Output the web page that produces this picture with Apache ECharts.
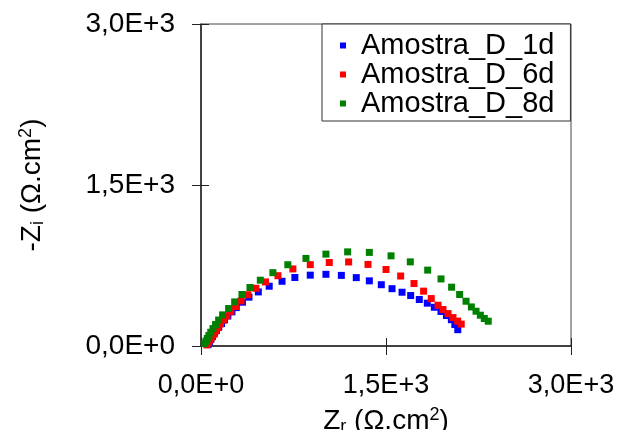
<!DOCTYPE html>
<html>
<head>
<meta charset="utf-8">
<script src="https://cdn.jsdelivr.net/npm/echarts@6/dist/echarts.min.js"></script>
<style>
  html, body { margin: 0; padding: 0; background: #fff; }
  #chart { width: 621px; height: 430px; }
</style>
</head>
<body>
<div id="chart"></div>
<script>
// Nyquist data: [Zr, -Zi] in ohm.cm2
const seriesNames = ['Amostra_D_1d', 'Amostra_D_6d', 'Amostra_D_8d'];
const seriesColors = ['#0000FF', '#FF0000', '#008000'];

const amostra1d = [
  [58, 15], [68, 38], [80, 62], [93, 88], [108, 115], [125, 145], [144, 176],
  [166, 209], [190, 243], [218, 280], [251, 318], [286, 358], [336, 408],
  [389, 455], [465, 504], [553, 557], [657, 603], [761, 638], [886, 660],
  [1013, 668], [1138, 658], [1259, 637], [1365, 607], [1462, 571], [1549, 534],
  [1630, 501], [1700, 470], [1770, 433], [1835, 399], [1892, 361], [1946, 322],
  [1990, 284], [2030, 245], [2058, 200], [2082, 152]
];

const amostra6d = [
  [48, 10], [60, 32], [72, 56], [86, 82], [101, 110], [118, 140], [137, 172],
  [158, 206], [182, 242], [210, 280], [242, 322], [280, 368], [325, 420],
  [380, 478], [445, 538], [523, 597], [624, 655], [745, 718], [886, 758],
  [1040, 778], [1197, 783], [1354, 760], [1500, 713], [1619, 652], [1727, 582],
  [1805, 511], [1867, 442], [1922, 380], [1962, 340], [2003, 302], [2043, 265],
  [2081, 232], [2110, 204]
];

const amostra8d = [
  [30, 22], [40, 45], [51, 70], [64, 98], [79, 128], [97, 162], [118, 200],
  [143, 242], [175, 290], [224, 349], [273, 411], [332, 480], [397, 545],
  [481, 613], [583, 683], [704, 757], [851, 816], [1013, 856], [1189, 877],
  [1365, 872], [1541, 840], [1697, 784], [1838, 707], [1946, 625], [2032, 548],
  [2097, 480], [2149, 417], [2192, 364], [2230, 324], [2265, 287], [2297, 256],
  [2329, 231]
];

const seriesData = [amostra1d, amostra6d, amostra8d];

// axis range and tick step (same for both axes)
const axisMin = 0;
const axisMax = 3000;
const axisStep = 1500;

const FONT = '"Liberation Sans", Arial, sans-serif';

// 1500 -> "1,5E+3"
function sciLabel(v) {
  return v.toExponential(1).replace('.', ',').replace('e', 'E');
}

const titleRich = {
  a: { fontFamily: FONT, fontSize: 28, color: '#000', lineHeight: 30 },
  s: { fontFamily: FONT, fontSize: 18, color: '#000', lineHeight: 18, verticalAlign: 'bottom' },
  p: { fontFamily: FONT, fontSize: 18, color: '#000', lineHeight: 18, verticalAlign: 'top' }
};

const grid = {
  left: 201, top: 24, width: 370, height: 322,
  show: true, borderColor: '#444', borderWidth: 1,
  containLabel: false,
  outerBoundsMode: 'none'
};

function mainAxis(dim) {
  const isX = dim === 'x';
  return {
    type: 'value',
    min: axisMin,
    max: axisMax,
    interval: axisStep,
    position: isX ? 'bottom' : 'left',
    splitLine: { show: false },
    axisLine: { show: true, onZero: false, lineStyle: { color: '#222', width: 1.5 } },
    axisTick: { show: true, inside: false, length: 9, lineStyle: { color: '#222', width: 1 } },
    axisLabel: {
      show: true,
      formatter: sciLabel,
      fontFamily: FONT,
      fontSize: isX ? 27 : 28,
      color: '#000',
      margin: 26
    },
    name: isX ? '{a|Z}{s|r}{a| (Ω.cm}{p|2}{a|)}' : '{a|-Z}{s|i}{a| (Ω.cm}{p|2}{a|)}',
    nameLocation: 'middle',
    nameGap: isX ? 60 : 154,
    nameTextStyle: { rich: titleRich }
  };
}

// companion axes drawing the inner half of the crossing tick marks
function innerTickAxis(dim) {
  return {
    type: 'value',
    min: axisMin,
    max: axisMax,
    interval: axisStep,
    position: dim === 'x' ? 'bottom' : 'left',
    splitLine: { show: false },
    axisLine: { show: false, onZero: false },
    axisTick: { show: true, inside: true, length: 8, lineStyle: { color: '#222', width: 1 } },
    axisLabel: { show: false }
  };
}

const chart = echarts.init(document.getElementById('chart'), null, { renderer: 'canvas' });

chart.setOption({
  animation: false,
  backgroundColor: '#fff',
  grid: grid,
  xAxis: [mainAxis('x'), innerTickAxis('x')],
  yAxis: [mainAxis('y'), innerTickAxis('y')],
  legend: {
    orient: 'vertical',
    left: 322,
    top: 24,
    padding: [7, 16, 3, 18],
    itemGap: 0,
    itemWidth: 6,
    itemHeight: 6,
    icon: 'rect',
    borderColor: '#333',
    borderWidth: 1,
    backgroundColor: '#fff',
    textStyle: { fontFamily: FONT, fontSize: 29, color: '#000', lineHeight: 26.7, padding: [0, 0, 0, 10] },
    data: seriesNames
  },
  series: seriesNames.map(function (name, i) {
    return {
      name: name,
      type: 'scatter',
      xAxisIndex: 0,
      yAxisIndex: 0,
      symbol: 'rect',
      symbolSize: 7,
      itemStyle: { color: seriesColors[i], opacity: 1 },
      emphasis: { disabled: true },
      data: seriesData[i]
    };
  })
});
</script>
</body>
</html>
